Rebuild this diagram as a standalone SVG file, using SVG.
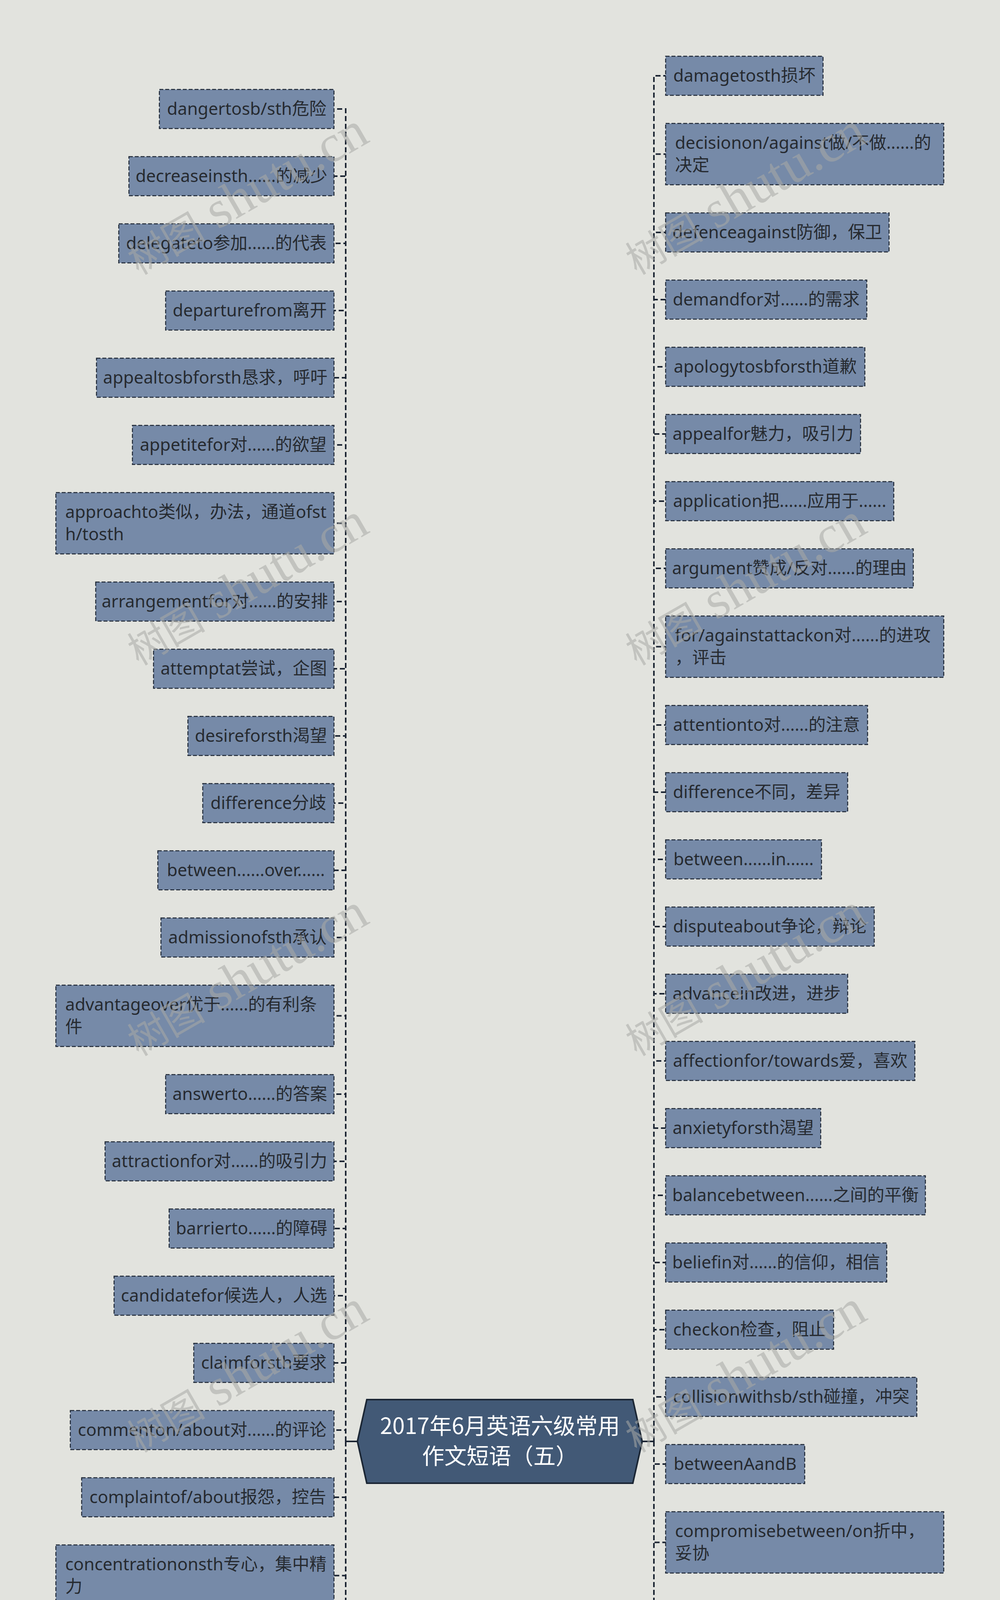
<svg xmlns="http://www.w3.org/2000/svg" width="2560" height="7379" viewBox="0 0 2560 7379">
<style>
.box{fill:#768aa8;stroke:#1c2533;stroke-width:2.5;stroke-dasharray:10 5}
.t{font-family:"Noto Sans","Noto Sans CJK SC",sans-serif;font-size:44px;fill:#262a30}
.c{text-anchor:middle}
.conn{fill:none;stroke:#1c2533;stroke-width:4;stroke-dasharray:13 7}
.solid{fill:none;stroke:#1c2533;stroke-width:4}
.root{fill:#425976;stroke:#1b2634;stroke-width:4}
.rt{font-family:"Noto Sans CJK SC","Noto Sans",sans-serif;font-size:57px;fill:#ffffff;text-anchor:middle}
.wm{font-family:"Liberation Serif","Noto Sans CJK SC",serif;fill:#a9aaa6;opacity:0.55}
.wc{font-size:100px}
.wl{font-size:135px}
</style>
<rect width="2560" height="7379" fill="#e2e3de"/>
<g id="connectors">
<path class="solid" d="M915 3690H885M1644 3690H1674"/>
<path class="conn" d="M885 3690V279H855"/>
<path class="conn" d="M885 3690V451H855"/>
<path class="conn" d="M885 3690V623H855"/>
<path class="conn" d="M885 3690V795H855"/>
<path class="conn" d="M885 3690V967H855"/>
<path class="conn" d="M885 3690V1139H855"/>
<path class="conn" d="M885 3690V1339.5H855"/>
<path class="conn" d="M885 3690V1540H855"/>
<path class="conn" d="M885 3690V1712H855"/>
<path class="conn" d="M885 3690V1884H855"/>
<path class="conn" d="M885 3690V2056H855"/>
<path class="conn" d="M885 3690V2228H855"/>
<path class="conn" d="M885 3690V2400H855"/>
<path class="conn" d="M885 3690V2600.5H855"/>
<path class="conn" d="M885 3690V2801H855"/>
<path class="conn" d="M885 3690V2973H855"/>
<path class="conn" d="M885 3690V3145H855"/>
<path class="conn" d="M885 3690V3317H855"/>
<path class="conn" d="M885 3690V3489H855"/>
<path class="conn" d="M885 3690V3661H855"/>
<path class="conn" d="M885 3690V3833H855"/>
<path class="conn" d="M885 3690V4033.5H855"/>
<path class="conn" d="M885 3690V4234H855"/>
<path class="conn" d="M885 3690V4406H855"/>
<path class="conn" d="M885 3690V4606.5H855"/>
<path class="conn" d="M885 3690V4835.5H855"/>
<path class="conn" d="M885 3690V5036H855"/>
<path class="conn" d="M885 3690V5208H855"/>
<path class="conn" d="M885 3690V5380H855"/>
<path class="conn" d="M885 3690V5552H855"/>
<path class="conn" d="M885 3690V5724H855"/>
<path class="conn" d="M885 3690V5896H855"/>
<path class="conn" d="M885 3690V6068H855"/>
<path class="conn" d="M885 3690V6240H855"/>
<path class="conn" d="M885 3690V6412H855"/>
<path class="conn" d="M885 3690V6584H855"/>
<path class="conn" d="M885 3690V6756H855"/>
<path class="conn" d="M885 3690V6928H855"/>
<path class="conn" d="M885 3690V7100H855"/>
<path class="conn" d="M1674 3690V194H1704"/>
<path class="conn" d="M1674 3690V394.5H1704"/>
<path class="conn" d="M1674 3690V595H1704"/>
<path class="conn" d="M1674 3690V767H1704"/>
<path class="conn" d="M1674 3690V939H1704"/>
<path class="conn" d="M1674 3690V1111H1704"/>
<path class="conn" d="M1674 3690V1283H1704"/>
<path class="conn" d="M1674 3690V1455H1704"/>
<path class="conn" d="M1674 3690V1655.5H1704"/>
<path class="conn" d="M1674 3690V1856H1704"/>
<path class="conn" d="M1674 3690V2028H1704"/>
<path class="conn" d="M1674 3690V2200H1704"/>
<path class="conn" d="M1674 3690V2372H1704"/>
<path class="conn" d="M1674 3690V2544H1704"/>
<path class="conn" d="M1674 3690V2716H1704"/>
<path class="conn" d="M1674 3690V2888H1704"/>
<path class="conn" d="M1674 3690V3060H1704"/>
<path class="conn" d="M1674 3690V3232H1704"/>
<path class="conn" d="M1674 3690V3404H1704"/>
<path class="conn" d="M1674 3690V3576H1704"/>
<path class="conn" d="M1674 3690V3748H1704"/>
<path class="conn" d="M1674 3690V3948.5H1704"/>
<path class="conn" d="M1674 3690V4149H1704"/>
<path class="conn" d="M1674 3690V4321H1704"/>
<path class="conn" d="M1674 3690V4493H1704"/>
<path class="conn" d="M1674 3690V4665H1704"/>
<path class="conn" d="M1674 3690V4837H1704"/>
<path class="conn" d="M1674 3690V5037.5H1704"/>
<path class="conn" d="M1674 3690V5238H1704"/>
<path class="conn" d="M1674 3690V5410H1704"/>
<path class="conn" d="M1674 3690V5582H1704"/>
<path class="conn" d="M1674 3690V5754H1704"/>
<path class="conn" d="M1674 3690V5926H1704"/>
<path class="conn" d="M1674 3690V6098H1704"/>
<path class="conn" d="M1674 3690V6270H1704"/>
<path class="conn" d="M1674 3690V6442H1704"/>
<path class="conn" d="M1674 3690V6614H1704"/>
<path class="conn" d="M1674 3690V6786H1704"/>
<path class="conn" d="M1674 3690V6958H1704"/>
<path class="conn" d="M1674 3690V7158.5H1704"/>
</g>
<g id="root">
<polygon class="root" points="939,3583 1620,3583 1644,3690 1620,3797 939,3797 915,3690"/>
<text class="rt" x="1280" y="3671">2017年6月英语六级常用</text>
<text class="rt" x="1280" y="3748">作文短语（五）</text>
</g>
<g id="L1"><rect class="box" x="408" y="229" width="447" height="100"/><text class="t c" x="631.5" y="293.5">dangertosb/sth危险</text></g>
<g id="L2"><rect class="box" x="330" y="401" width="525" height="100"/><text class="t c" x="592.5" y="465.5">decreaseinsth......的减少</text></g>
<g id="L3"><rect class="box" x="304" y="573" width="551" height="100"/><text class="t c" x="579.5" y="637.5">delegateto参加......的代表</text></g>
<g id="L4"><rect class="box" x="424" y="745" width="431" height="100"/><text class="t c" x="639.5" y="809.5">departurefrom离开</text></g>
<g id="L5"><rect class="box" x="247" y="917" width="608" height="100"/><text class="t c" x="551" y="981.5">appealtosbforsth恳求，呼吁</text></g>
<g id="L6"><rect class="box" x="339" y="1089" width="516" height="100"/><text class="t c" x="597" y="1153.5">appetitefor对......的欲望</text></g>
<g id="L7"><rect class="box" x="143" y="1261" width="712" height="157"/><text class="t" x="167" y="1325.5">approachto类似，办法，通道ofst</text><text class="t" x="167" y="1382.5">h/tosth</text></g>
<g id="L8"><rect class="box" x="245" y="1490" width="610" height="100"/><text class="t c" x="550" y="1554.5">arrangementfor对......的安排</text></g>
<g id="L9"><rect class="box" x="393" y="1662" width="462" height="100"/><text class="t c" x="624" y="1726.5">attemptat尝试，企图</text></g>
<g id="L10"><rect class="box" x="481" y="1834" width="374" height="100"/><text class="t c" x="668" y="1898.5">desireforsth渴望</text></g>
<g id="L11"><rect class="box" x="519" y="2006" width="336" height="100"/><text class="t c" x="687" y="2070.5">difference分歧</text></g>
<g id="L12"><rect class="box" x="404" y="2178" width="451" height="100"/><text class="t c" x="629.5" y="2242.5">between......over......</text></g>
<g id="L13"><rect class="box" x="412" y="2350" width="443" height="100"/><text class="t c" x="633.5" y="2414.5">admissionofsth承认</text></g>
<g id="L14"><rect class="box" x="143" y="2522" width="712" height="157"/><text class="t" x="167" y="2586.5">advantageover优于......的有利条</text><text class="t" x="167" y="2643.5">件</text></g>
<g id="L15"><rect class="box" x="424" y="2751" width="431" height="100"/><text class="t c" x="639.5" y="2815.5">answerto......的答案</text></g>
<g id="L16"><rect class="box" x="269" y="2923" width="586" height="100"/><text class="t c" x="562" y="2987.5">attractionfor对......的吸引力</text></g>
<g id="L17"><rect class="box" x="433" y="3095" width="422" height="100"/><text class="t c" x="644" y="3159.5">barrierto......的障碍</text></g>
<g id="L18"><rect class="box" x="292" y="3267" width="563" height="100"/><text class="t c" x="573.5" y="3331.5">candidatefor候选人，人选</text></g>
<g id="L19"><rect class="box" x="496" y="3439" width="359" height="100"/><text class="t c" x="675.5" y="3503.5">claimforsth要求</text></g>
<g id="L20"><rect class="box" x="180" y="3611" width="675" height="100"/><text class="t c" x="517.5" y="3675.5">commenton/about对......的评论</text></g>
<g id="L21"><rect class="box" x="209" y="3783" width="646" height="100"/><text class="t c" x="532" y="3847.5">complaintof/about报怨，控告</text></g>
<g id="L22"><rect class="box" x="143" y="3955" width="712" height="157"/><text class="t" x="167" y="4019.5">concentrationonsth专心，集中精</text><text class="t" x="167" y="4076.5">力</text></g>
<g id="L23"><rect class="box" x="254" y="4184" width="601" height="100"/><text class="t c" x="554.5" y="4248.5">concernabout/for/over担心</text></g>
<g id="L24"><rect class="box" x="180" y="4356" width="675" height="100"/><text class="t c" x="517.5" y="4420.5">connectionbetween;关系，连接</text></g>
<g id="L25"><rect class="box" x="143" y="4528" width="712" height="157"/><text class="t" x="167" y="4592.5">with/tosthcontactwithsb/sth接触</text><text class="t" x="167" y="4649.5">，联系</text></g>
<g id="L26"><rect class="box" x="143" y="4757" width="712" height="157"/><text class="t" x="167" y="4821.5">contradictionbetween矛盾，不一</text><text class="t" x="167" y="4878.5">致</text></g>
<g id="L27"><rect class="box" x="170" y="4986" width="685" height="100"/><text class="t c" x="512.5" y="5050.5">contributionto贡献，捐献，促成</text></g>
<g id="L28"><rect class="box" x="189" y="5158" width="666" height="100"/><text class="t c" x="522" y="5222.5">conversion转变，转换aboutsth</text></g>
<g id="L29"><rect class="box" x="572" y="5330" width="283" height="100"/><text class="t c" x="713.5" y="5394.5">liableto易于</text></g>
<g id="L30"><rect class="box" x="301" y="5502" width="554" height="100"/><text class="t c" x="578" y="5566.5">madat/withsb.生气，愤怒</text></g>
<g id="L31"><rect class="box" x="421" y="5674" width="434" height="100"/><text class="t c" x="638" y="5738.5">nextto下一个，其次</text></g>
<g id="L32"><rect class="box" x="458" y="5846" width="397" height="100"/><text class="t c" x="656.5" y="5910.5">oppositeto在对面</text></g>
<g id="L33"><rect class="box" x="281" y="6018" width="574" height="100"/><text class="t c" x="568" y="6082.5">particularabout挑剔，讲究</text></g>
<g id="L34"><rect class="box" x="430" y="6190" width="425" height="100"/><text class="t c" x="642.5" y="6254.5">invisibleto不可见的</text></g>
<g id="L35"><rect class="box" x="400" y="6362" width="455" height="100"/><text class="t c" x="627.5" y="6426.5">keepon爱好，很喜欢</text></g>
<g id="L36"><rect class="box" x="304" y="6534" width="551" height="100"/><text class="t c" x="579.5" y="6598.5">peculiarto独特的，独有的</text></g>
<g id="L37"><rect class="box" x="470" y="6706" width="385" height="100"/><text class="t c" x="662.5" y="6770.5">priorto在......之前</text></g>
<g id="L38"><rect class="box" x="254" y="6878" width="601" height="100"/><text class="t c" x="554.5" y="6942.5">indifferentto无兴趣，不关心</text></g>
<g id="L39"><rect class="box" x="319" y="7050" width="536" height="100"/><text class="t c" x="587" y="7114.5">inferiorto级别低于，不如</text></g>
<g id="R1"><rect class="box" x="1704" y="144" width="403" height="100"/><text class="t c" x="1905.5" y="208.5">damagetosth损坏</text></g>
<g id="R2"><rect class="box" x="1704" y="316" width="712" height="157"/><text class="t" x="1728" y="380.5">decisionon/against做/不做......的</text><text class="t" x="1728" y="437.5">决定</text></g>
<g id="R3"><rect class="box" x="1704" y="545" width="572" height="100"/><text class="t c" x="1990" y="609.5">defenceagainst防御，保卫</text></g>
<g id="R4"><rect class="box" x="1704" y="717" width="515" height="100"/><text class="t c" x="1961.5" y="781.5">demandfor对......的需求</text></g>
<g id="R5"><rect class="box" x="1704" y="889" width="510" height="100"/><text class="t c" x="1959" y="953.5">apologytosbforsth道歉</text></g>
<g id="R6"><rect class="box" x="1704" y="1061" width="499" height="100"/><text class="t c" x="1953.5" y="1125.5">appealfor魅力，吸引力</text></g>
<g id="R7"><rect class="box" x="1704" y="1233" width="584" height="100"/><text class="t c" x="1996" y="1297.5">application把......应用于......</text></g>
<g id="R8"><rect class="box" x="1704" y="1405" width="634" height="100"/><text class="t c" x="2021" y="1469.5">argument赞成/反对......的理由</text></g>
<g id="R9"><rect class="box" x="1704" y="1577" width="712" height="157"/><text class="t" x="1728" y="1641.5">for/againstattackon对......的进攻</text><text class="t" x="1728" y="1698.5">，评击</text></g>
<g id="R10"><rect class="box" x="1704" y="1806" width="517" height="100"/><text class="t c" x="1962.5" y="1870.5">attentionto对......的注意</text></g>
<g id="R11"><rect class="box" x="1704" y="1978" width="466" height="100"/><text class="t c" x="1937" y="2042.5">difference不同，差异</text></g>
<g id="R12"><rect class="box" x="1704" y="2150" width="399" height="100"/><text class="t c" x="1903.5" y="2214.5">between......in......</text></g>
<g id="R13"><rect class="box" x="1704" y="2322" width="534" height="100"/><text class="t c" x="1971" y="2386.5">disputeabout争论，辩论</text></g>
<g id="R14"><rect class="box" x="1704" y="2494" width="466" height="100"/><text class="t c" x="1937" y="2558.5">advancein改进，进步</text></g>
<g id="R15"><rect class="box" x="1704" y="2666" width="638" height="100"/><text class="t c" x="2023" y="2730.5">affectionfor/towards爱，喜欢</text></g>
<g id="R16"><rect class="box" x="1704" y="2838" width="397" height="100"/><text class="t c" x="1902.5" y="2902.5">anxietyforsth渴望</text></g>
<g id="R17"><rect class="box" x="1704" y="3010" width="665" height="100"/><text class="t c" x="2036.5" y="3074.5">balancebetween......之间的平衡</text></g>
<g id="R18"><rect class="box" x="1704" y="3182" width="566" height="100"/><text class="t c" x="1987" y="3246.5">beliefin对......的信仰，相信</text></g>
<g id="R19"><rect class="box" x="1704" y="3354" width="430" height="100"/><text class="t c" x="1919" y="3418.5">checkon检查，阻止</text></g>
<g id="R20"><rect class="box" x="1704" y="3526" width="643" height="100"/><text class="t c" x="2025.5" y="3590.5">collisionwithsb/sth碰撞，冲突</text></g>
<g id="R21"><rect class="box" x="1704" y="3698" width="356" height="100"/><text class="t c" x="1882" y="3762.5">betweenAandB</text></g>
<g id="R22"><rect class="box" x="1704" y="3870" width="712" height="157"/><text class="t" x="1728" y="3934.5">compromisebetween/on折中，</text><text class="t" x="1728" y="3991.5">妥协</text></g>
<g id="R23"><rect class="box" x="1704" y="4099" width="649" height="100"/><text class="t c" x="2028.5" y="4163.5">concentrationofsth集中，聚集</text></g>
<g id="R24"><rect class="box" x="1704" y="4271" width="679" height="100"/><text class="t c" x="2043.5" y="4335.5">confidencein对......的信任，相信</text></g>
<g id="R25"><rect class="box" x="1704" y="4443" width="397" height="100"/><text class="t c" x="1902.5" y="4507.5">consenttosth同意</text></g>
<g id="R26"><rect class="box" x="1704" y="4615" width="532" height="100"/><text class="t c" x="1970" y="4679.5">contestforsth争夺，竞争</text></g>
<g id="R27"><rect class="box" x="1704" y="4787" width="638" height="100"/><text class="t c" x="2023" y="4851.5">contrastto/withsth对比，对照</text></g>
<g id="R28"><rect class="box" x="1704" y="4959" width="712" height="157"/><text class="t" x="1728" y="5023.5">betweenAandBconversationwith</text><text class="t" x="1728" y="5080.5">sb对话</text></g>
<g id="R29"><rect class="box" x="1704" y="5188" width="455" height="100"/><text class="t c" x="1931.5" y="5252.5">liablefor对......有责任</text></g>
<g id="R30"><rect class="box" x="1704" y="5360" width="269" height="100"/><text class="t c" x="1838.5" y="5424.5">loyalto忠于</text></g>
<g id="R31"><rect class="box" x="1704" y="5532" width="421" height="100"/><text class="t c" x="1914.5" y="5596.5">madwith因......发狂</text></g>
<g id="R32"><rect class="box" x="1704" y="5704" width="492" height="100"/><text class="t c" x="1950" y="5768.5">necessaryto/for必要的</text></g>
<g id="R33"><rect class="box" x="1704" y="5876" width="493" height="100"/><text class="t c" x="1950.5" y="5940.5">opento不限制，开放的</text></g>
<g id="R34"><rect class="box" x="1704" y="6048" width="347" height="100"/><text class="t c" x="1877.5" y="6112.5">intenton专心于</text></g>
<g id="R35"><rect class="box" x="1704" y="6220" width="317" height="100"/><text class="t c" x="1862.5" y="6284.5">jealousof嫉妒</text></g>
<g id="R36"><rect class="box" x="1704" y="6392" width="565" height="100"/><text class="t c" x="1986.5" y="6456.5">parallelto与......平等，类似</text></g>
<g id="R37"><rect class="box" x="1704" y="6564" width="407" height="100"/><text class="t c" x="1907.5" y="6628.5">patientwith有耐心</text></g>
<g id="R38"><rect class="box" x="1704" y="6736" width="620" height="100"/><text class="t c" x="2014" y="6800.5">popularwith受......喜爱，爱戴</text></g>
<g id="R39"><rect class="box" x="1704" y="6908" width="472" height="100"/><text class="t c" x="1940" y="6972.5">indignantwithsb.愤慨</text></g>
<g id="R40"><rect class="box" x="1704" y="7080" width="712" height="157"/><text class="t" x="1728" y="7144.5">ab/aboutsthinnocentof无......罪</text><text class="t" x="1728" y="7201.5">，无辜</text></g>
<g id="watermarks">
<text class="wm" transform="translate(355,705) rotate(-30)"><tspan class="wc">树图</tspan><tspan class="wl"> shutu.cn</tspan></text>
<text class="wm" transform="translate(355,1705) rotate(-30)"><tspan class="wc">树图</tspan><tspan class="wl"> shutu.cn</tspan></text>
<text class="wm" transform="translate(355,2705) rotate(-30)"><tspan class="wc">树图</tspan><tspan class="wl"> shutu.cn</tspan></text>
<text class="wm" transform="translate(355,3720) rotate(-30)"><tspan class="wc">树图</tspan><tspan class="wl"> shutu.cn</tspan></text>
<text class="wm" transform="translate(355,4705) rotate(-30)"><tspan class="wc">树图</tspan><tspan class="wl"> shutu.cn</tspan></text>
<text class="wm" transform="translate(355,5705) rotate(-30)"><tspan class="wc">树图</tspan><tspan class="wl"> shutu.cn</tspan></text>
<text class="wm" transform="translate(355,6705) rotate(-30)"><tspan class="wc">树图</tspan><tspan class="wl"> shutu.cn</tspan></text>
<text class="wm" transform="translate(355,7705) rotate(-30)"><tspan class="wc">树图</tspan><tspan class="wl"> shutu.cn</tspan></text>
<text class="wm" transform="translate(1630,705) rotate(-30)"><tspan class="wc">树图</tspan><tspan class="wl"> shutu.cn</tspan></text>
<text class="wm" transform="translate(1630,1705) rotate(-30)"><tspan class="wc">树图</tspan><tspan class="wl"> shutu.cn</tspan></text>
<text class="wm" transform="translate(1630,2705) rotate(-30)"><tspan class="wc">树图</tspan><tspan class="wl"> shutu.cn</tspan></text>
<text class="wm" transform="translate(1630,3720) rotate(-30)"><tspan class="wc">树图</tspan><tspan class="wl"> shutu.cn</tspan></text>
<text class="wm" transform="translate(1630,4705) rotate(-30)"><tspan class="wc">树图</tspan><tspan class="wl"> shutu.cn</tspan></text>
<text class="wm" transform="translate(1630,5705) rotate(-30)"><tspan class="wc">树图</tspan><tspan class="wl"> shutu.cn</tspan></text>
<text class="wm" transform="translate(1630,6705) rotate(-30)"><tspan class="wc">树图</tspan><tspan class="wl"> shutu.cn</tspan></text>
<text class="wm" transform="translate(1630,7705) rotate(-30)"><tspan class="wc">树图</tspan><tspan class="wl"> shutu.cn</tspan></text>
</g>
</svg>
